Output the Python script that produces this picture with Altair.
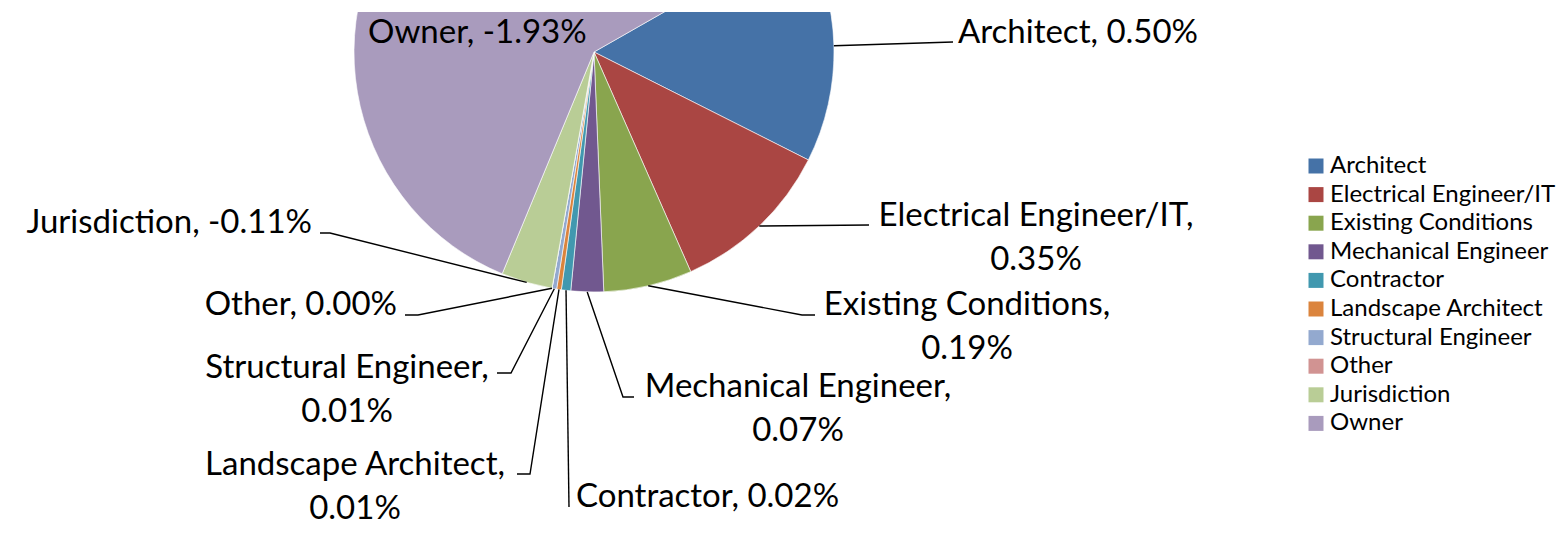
import math
import altair as alt
import pandas as pd

# ---------------- data ----------------
categories = ["Architect", "Electrical Engineer/IT", "Existing Conditions",
              "Mechanical Engineer", "Contractor", "Landscape Architect",
              "Structural Engineer", "Other", "Jurisdiction", "Owner"]
values = [0.50, 0.35, 0.19, 0.07, 0.02, 0.01, 0.01, 0.00, -0.11, -1.93]
colors = ["#4572A7", "#AA4643", "#89A54E", "#71588F", "#4198AF",
          "#DB843D", "#93A9CF", "#D19392", "#B9CD96", "#A99BBD"]

# ---------------- layout (page pixels) ----------------
OX, OY = 8, 12            # plot-area origin on the page
CX, CY, R = 594, 52, 240  # pie centre and radius
START_DEG = 60.3          # angle of first slice

wrap = [False, True, True, True, False, True, True, False, False, False]
label_pos = [(958, 43, "left"), (1036, 226, "center"), (967, 315, "center"),
             (798, 397, "center"), (576, 507, "left"), (355, 475, "center"),
             (347, 378, "center"), (397, 315, "right"), (312, 233, "right"),
             (368, 43, "left")]
leader_pts = [[(953, 42)], [(869, 225)], [(802, 315), (815, 315)],
              [(623, 397), (634, 397)], [(569, 507)], [(530, 474), (517, 474)],
              [(511, 373), (497, 373)], [(418, 315), (405, 315)],
              [(330, 233), (320, 233)], []]

FONT = "Lato"

# ---------------- tables ----------------
absvals = [abs(v) for v in values]
total = sum(absvals)
pie_df = pd.DataFrame({"cat": categories, "absval": absvals,
                       "idx": list(range(len(categories)))})

line_rows = []
label_rows = []
cum = 0.0
for i, (c, v) in enumerate(zip(categories, values)):
    mid = START_DEG + (cum + absvals[i] / 2) / total * 360.0
    cum += absvals[i]
    a = math.radians(mid)
    sx, sy = CX + R * math.sin(a), CY - R * math.cos(a)
    pts = leader_pts[i]
    if pts:
        line_rows.append({"cat": c, "o": 0, "x": sx - OX, "y": sy - OY})
        for k, (px, py) in enumerate(pts):
            line_rows.append({"cat": c, "o": k + 1, "x": px - OX, "y": py - OY})
    sep = "\n" if wrap[i] else " "
    txt = f"{c},{sep}{v:.2f}%"
    lx, ly, al = label_pos[i]
    label_rows.append({"cat": c, "text": txt, "x": lx - OX, "y": ly - OY, "align": al})

line_df = pd.DataFrame(line_rows)
label_df = pd.DataFrame(label_rows)

W, H = 1552, 515

pie = alt.Chart(pie_df).mark_arc(radius=R, clip=True, stroke="white",
                                 strokeWidth=0.6, opacity=1).encode(
    theta=alt.Theta("absval:Q", stack=True,
                    scale=alt.Scale(range=[math.radians(START_DEG),
                                           math.radians(START_DEG) + 2 * math.pi])),
    order=alt.Order("idx:Q"),
    color=alt.Color("cat:N", sort=categories,
                    scale=alt.Scale(domain=categories, range=colors),
                    legend=alt.Legend(title=None, orient="none",
                                      legendX=1296, legendY=142,
                                      symbolType="square", symbolSize=225,
                                      symbolStrokeWidth=0, labelFont=FONT,
                                      labelFontSize=24, labelColor="black",
                                      labelLimit=500, rowPadding=4.6,
                                      labelOffset=2, padding=0)),
    x=alt.value(CX - OX),
    y=alt.value(CY - OY),
)

leaders = alt.Chart(line_df).mark_line(color="black", strokeWidth=1.4).encode(
    x=alt.X("x:Q", scale=None, axis=None),
    y=alt.Y("y:Q", scale=None, axis=None),
    detail="cat:N",
    order="o:Q",
)

text_layers = []
for al in ["left", "center", "right"]:
    sub = label_df[label_df["align"] == al]
    if len(sub) == 0:
        continue
    text_layers.append(
        alt.Chart(sub).mark_text(align=al, baseline="alphabetic", font=FONT,
                                 fontSize=33, color="black", lineBreak="\n",
                                 lineHeight=44).encode(
            x=alt.X("x:Q", scale=None, axis=None),
            y=alt.Y("y:Q", scale=None, axis=None),
            text="text:N",
        )
    )

chart = alt.layer(pie, leaders, *text_layers).properties(
    width=W, height=H,
    background="white",
    autosize=alt.AutoSizeParams(type="none"),
    padding={"left": 0, "top": OY - 8, "right": 0, "bottom": 0},
).configure_view(stroke=None, strokeWidth=0)

chart.save("out.html", embed_options={"renderer": "svg", "actions": False})
